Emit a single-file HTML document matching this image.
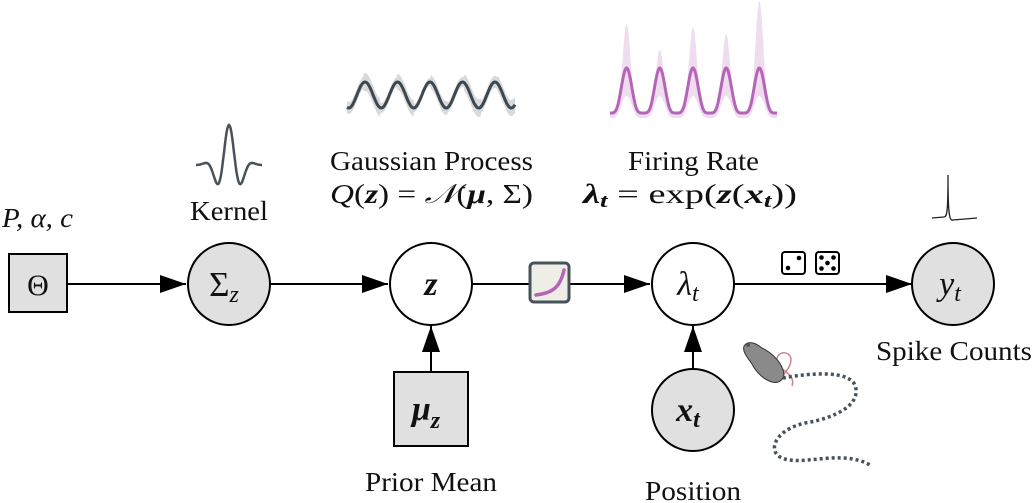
<!DOCTYPE html>
<html><head><meta charset="utf-8"><style>
html,body{margin:0;padding:0;background:#fff}
svg{display:block}
text{font-family:"Liberation Serif",serif;fill:#111}
</style></head><body>
<svg width="1032" height="503" viewBox="0 0 1032 503" xmlns="http://www.w3.org/2000/svg">
<g stroke="#000" stroke-width="2" fill="none">
<line x1="67" y1="284" x2="186" y2="284"/>
<path d="M160,275 L186,284 L160,293 z" fill="#000" stroke="none"/>
<line x1="270" y1="284" x2="388" y2="284"/>
<path d="M362,275 L388,284 L362,293 z" fill="#000" stroke="none"/>
<line x1="472" y1="284" x2="529" y2="284"/>
<line x1="570" y1="284" x2="650" y2="284"/>
<path d="M624,275 L650,284 L624,293 z" fill="#000" stroke="none"/>
<line x1="734" y1="284" x2="912" y2="284"/>
<path d="M886,275 L912,284 L886,293 z" fill="#000" stroke="none"/>
<line x1="431" y1="372" x2="431" y2="326"/>
<path d="M422,352 L431,326 L440,352 z" fill="#000" stroke="none"/>
<line x1="693" y1="368" x2="693" y2="326"/>
<path d="M684,352 L693,326 L702,352 z" fill="#000" stroke="none"/>
</g>
<rect x="9" y="254" width="58" height="58" fill="#e0e0e0" stroke="#000" stroke-width="2"/>
<text x="38" y="295" font-size="30" text-anchor="middle">Θ</text>
<text x="2" y="227" font-size="27" font-style="italic" textLength="71" lengthAdjust="spacingAndGlyphs">P, α, c</text>

<circle cx="229" cy="284" r="41" fill="#e0e0e0" stroke="#000" stroke-width="2"/>
<text x="224" y="296" font-size="35" text-anchor="middle">Σ<tspan font-size="24" font-style="italic" dy="6">z</tspan></text>
<text x="190" y="220" font-size="27" textLength="78" lengthAdjust="spacingAndGlyphs">Kernel</text>

<circle cx="431" cy="284" r="41" fill="#fff" stroke="#000" stroke-width="2"/>
<text x="431" y="295" font-size="34" font-style="italic" font-weight="bold" text-anchor="middle">z</text>
<text x="330" y="170" font-size="27" textLength="203" lengthAdjust="spacingAndGlyphs">Gaussian Process</text>
<text x="330" y="203" font-size="27" textLength="203" lengthAdjust="spacingAndGlyphs"><tspan font-style="italic">Q</tspan>(<tspan font-style="italic" font-weight="bold">z</tspan>) = <tspan font-style="italic">𝒩</tspan>(<tspan font-style="italic" font-weight="bold">μ</tspan>, Σ)</text>

<rect x="530" y="263" width="39" height="39" rx="4" fill="#eeede6" stroke="#47535b" stroke-width="3"/>
<path d="M536,295 C552,293 560,288 564,270" fill="none" stroke="#b565b8" stroke-width="3.5" stroke-linecap="round"/>

<circle cx="693" cy="284" r="41" fill="#fff" stroke="#000" stroke-width="2"/>
<text x="688" y="295" font-size="34" font-style="italic" text-anchor="middle">λ<tspan font-size="24" dy="6">t</tspan></text>
<text x="628" y="170" font-size="27" textLength="131" lengthAdjust="spacingAndGlyphs">Firing Rate</text>
<text x="583" y="203" font-size="27" textLength="214" lengthAdjust="spacingAndGlyphs"><tspan font-weight="bold" font-style="italic">λ</tspan><tspan font-weight="bold" font-style="italic" font-size="19" dy="4">t</tspan><tspan dy="-4"> = exp(</tspan><tspan font-style="italic" font-weight="bold">z</tspan>(<tspan font-style="italic" font-weight="bold">x</tspan><tspan font-weight="bold" font-style="italic" font-size="19" dy="4">t</tspan><tspan dy="-4">))</tspan></text>

<circle cx="953" cy="284" r="41" fill="#e0e0e0" stroke="#000" stroke-width="2"/>
<text x="950" y="295" font-size="34" font-style="italic" text-anchor="middle">y<tspan font-size="24" dy="6">t</tspan></text>
<text x="876" y="360" font-size="27" textLength="156" lengthAdjust="spacingAndGlyphs">Spike Counts</text>
<path d="M932,218 L944,217 C947,217 948,212 948,175 C948,210 949,222 953,220 L977,218" fill="none" stroke="#222" stroke-width="1.3"/>

<rect x="394" y="372" width="74" height="74" fill="#e0e0e0" stroke="#000" stroke-width="2"/>
<text x="426" y="420" font-size="34" font-style="italic" font-weight="bold" text-anchor="middle">μ<tspan font-size="24" dy="8">z</tspan></text>
<text x="365" y="491" font-size="27" textLength="132" lengthAdjust="spacingAndGlyphs">Prior Mean</text>

<circle cx="693" cy="410" r="41" fill="#e0e0e0" stroke="#000" stroke-width="2"/>
<text x="688" y="421" font-size="34" font-style="italic" font-weight="bold" text-anchor="middle">x<tspan font-size="24" dy="6">t</tspan></text>
<text x="645" y="500" font-size="27" textLength="96" lengthAdjust="spacingAndGlyphs">Position</text>

<g>
<rect x="782" y="252" width="23" height="22" rx="3" fill="#fff" stroke="#000" stroke-width="2"/>
<circle cx="788" cy="268" r="2.3" fill="#000"/><circle cx="799" cy="258" r="2.3" fill="#000"/>
<rect x="816" y="252" width="23" height="22" rx="3" fill="#fff" stroke="#000" stroke-width="2"/>
<circle cx="821.5" cy="257.5" r="2.3" fill="#000"/><circle cx="833.5" cy="257.5" r="2.3" fill="#000"/><circle cx="827.5" cy="263" r="2.3" fill="#000"/><circle cx="821.5" cy="268.5" r="2.3" fill="#000"/><circle cx="833.5" cy="268.5" r="2.3" fill="#000"/>
</g>

<g>
<path d="M783,375 C790,368 794,358 788,354 C782,350 774,356 778,364 C782,372 796,374 792,386" fill="none" stroke="#c9868e" stroke-width="1.5"/>
<path d="M744,346 C748,340 756,343 762,348 C770,352 780,360 783,370 C786,378 780,384 772,382 C764,380 756,372 752,364 C748,358 742,352 744,346 z" fill="#8a8a8a" stroke="#333" stroke-width="1"/>
<circle cx="748" cy="345" r="2" fill="#555"/>
</g>
<path d="M783,378 C810,373 848,370 855,385 C862,405 835,418 805,423 C775,430 768,450 780,457 C800,468 840,448 870,465" fill="none" stroke="#47535b" stroke-width="3.5" stroke-dasharray="3,3"/>

<path id="kernel-wave" fill="none" stroke="#47535b" stroke-width="2.5"/>
<path id="gp-band" fill="#d8d9da" stroke="none"/>
<path id="gp-mean" fill="none" stroke="#3b4850" stroke-width="3"/>
<path id="rate-band" fill="#efdcef" stroke="none"/>
<path id="rate-mean" fill="none" stroke="#b565b8" stroke-width="3"/>
</svg>
<script>
const gpBandWidth=[6,9,5,8,4,7,5,9,6,8];
const ratePeakTops=[25,51,28,35,2];
function path(pts){return pts.map((p,i)=>(i?'L':'M')+p[0].toFixed(1)+','+p[1].toFixed(1)).join(' ');}
// kernel wavelet
let k=[];for(let i=0;i<=80;i++){const x=196+i*(66/80),t=(x-229)/10;k.push([x,165-40*Math.cos(t*2.4)*Math.exp(-t*t/2)]);}
document.getElementById('kernel-wave').setAttribute('d',path(k));
// gp wave
const g=[],gu=[],gl=[];const x0=347,x1=515,per=32.5;
for(let i=0;i<=200;i++){const x=x0+(x1-x0)*i/200;const y=95-13*Math.cos(2*Math.PI*(x-365)/per);
const idx=Math.min(gpBandWidth.length-1,Math.floor(i/200*gpBandWidth.length));
const w=gpBandWidth[idx];
g.push([x,y]);gu.push([x,y-w]);gl.push([x,y+w]);}
document.getElementById('gp-band').setAttribute('d',path(gu.concat(gl.slice().reverse()))+'z');
document.getElementById('gp-mean').setAttribute('d',path(g));
// rate
const r=[],ru=[],rl=[];const r0=610,r1=777,rp=33.2;
for(let i=0;i<=240;i++){const x=r0+(r1-r0)*i/240;const ph=(x-r0)/rp;const n=Math.max(0,Math.min(4,Math.floor(ph)));
const s=Math.pow((1-Math.cos(ph*2*Math.PI))/2,2.2);
const base=113;
r.push([x,base-45*s]);ru.push([x,base-(base-ratePeakTops[n])*Math.pow(s,1.6)-1]);rl.push([x,base+5-22*s]);}
document.getElementById('rate-band').setAttribute('d',path(ru.concat(rl.slice().reverse()))+'z');
document.getElementById('rate-mean').setAttribute('d',path(r));
</script>
</body></html>
